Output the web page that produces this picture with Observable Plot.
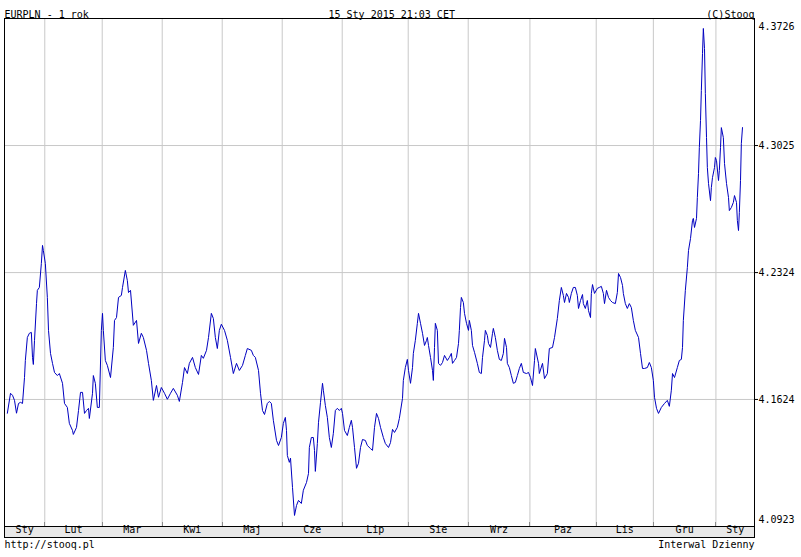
<!DOCTYPE html>
<html>
<head>
<meta charset="utf-8">
<script src="https://cdn.jsdelivr.net/npm/d3@7"></script>
<script src="https://cdn.jsdelivr.net/npm/@observablehq/plot@0.6"></script>
<style>
  html, body { margin: 0; padding: 0; background: #fff; }
</style>
</head>
<body>
<div id="chart"></div>
<script>
// Trading-session index (from mid-January 2014) and EUR/PLN close
const day = [
  0, 1.1, 1.8, 2.5, 3.2, 3.9, 4.6, 5.3, 6.0, 6.3, 7.0, 7.7, 8.4, 8.8, 9.1, 9.5,
  10.2, 10.5, 11.2, 11.9, 12.3, 12.6, 13.3, 14.0, 14.4, 15.1, 15.8, 16.5, 17.5, 18.2,
  19.3, 20.0, 21.0, 21.7, 22.8, 23.1, 24.2, 24.9, 25.6, 26.3, 27.0, 27.7, 28.4, 28.7,
  29.8, 30.1, 30.8, 31.5, 32.2, 32.9, 33.3, 33.6, 34.3, 35.0, 36.1, 37.1, 37.5, 38.2,
  38.9, 39.9, 40.3, 41.3, 42.0, 42.4, 43.1,
  44.1, 45.2, 45.9, 46.9, 47.6, 48.7, 49.4, 50.4, 51.1, 52.2, 52.9, 53.9, 55.0, 56.0,
  57.1, 58.1, 59.5, 60.2, 61.3, 62.0, 63.0, 63.7, 64.8, 65.8, 66.9, 67.9, 68.6, 69.7,
  70.4, 71.4, 72.1, 72.8, 73.5, 74.2, 74.9, 76.0, 77.0, 78.1, 79.1, 80.2, 81.2, 82.3,
  83.3, 84.0, 85.4, 86.1,
  86.8, 87.9, 88.6, 89.3, 90.0, 91.0, 91.7, 92.4, 93.1, 94.2, 94.9, 95.9, 96.6, 97.3,
  97.7, 98.0, 98.7, 99.1, 99.8, 100.5, 101.2, 101.9, 102.9, 103.6, 104.7, 105.4, 105.7,
  106.4, 107.1, 107.5, 107.8, 108.5, 108.9, 109.6, 110.3, 110.6, 111.3, 112.0, 112.7,
  113.4, 114.1, 114.8, 115.5, 116.2, 116.9, 117.3, 118.0, 119.0, 119.7, 120.4, 120.8,
  121.5, 122.2, 122.9, 123.6, 124.3, 125.3, 126.0, 127.1, 127.8, 128.5, 129.2, 129.9,
  130.6, 131.6, 132.3, 133.4, 134.1, 134.8, 135.5, 136.5, 137.2,
  138.3, 138.6, 139.3, 140.0, 140.4, 141.1, 141.8, 142.1, 142.8, 143.5, 143.9, 144.6,
  145.3, 146.0, 146.7, 147.0, 147.4, 148.1, 148.8, 149.1, 149.5, 149.8, 150.5, 150.9,
  151.6, 152.3, 153.0, 154.0, 154.7, 155.4, 155.8, 156.5, 157.2, 157.9, 158.2, 158.6,
  158.9, 159.6, 160.0, 160.7, 161.4, 161.7, 162.4, 162.8, 163.5, 164.5, 165.2, 165.9,
  166.3, 167.0, 167.3, 168.0, 168.4, 169.1, 169.8, 170.1, 170.8, 171.5, 172.2, 172.9,
  173.6, 174.0, 174.7, 175.0, 175.7, 176.4, 177.1, 177.8, 178.5, 179.2, 179.9, 180.6,
  181.7, 182.4, 183.1, 183.8, 184.5, 184.8,
  185.9, 186.2, 187.3, 188.0, 189.0, 189.7, 190.8, 191.5, 192.5, 193.2, 193.9, 194.6,
  195.0, 195.7, 196.4, 196.7, 197.4, 198.1, 198.8, 199.5, 199.9, 200.6, 201.3, 201.6,
  202.3, 203.0, 203.4, 204.1, 204.4, 204.8, 205.5, 206.5, 207.2, 207.9, 208.6, 209.0,
  209.7, 210.4, 211.1, 211.8, 212.8, 213.5, 213.9, 214.6, 215.3, 215.6, 216.3, 217.0,
  217.7, 218.4, 219.1, 219.8, 220.9, 221.6, 222.3, 223.0, 224.0, 224.7, 225.4, 226.1,
  226.5, 227.2, 227.9, 228.9, 230.0, 231.0, 231.7,
  232.4, 232.8, 233.5, 234.5, 235.2, 235.9, 236.3, 236.6, 237.3, 238.0, 238.4, 239.1,
  239.8, 240.1, 240.5, 241.2, 241.5, 241.9, 242.2, 242.6, 242.9, 243.3, 243.6, 244.0,
  244.3, 244.7, 245.0, 245.4, 246.1, 246.4, 246.8, 247.5, 247.8, 248.2, 248.9, 249.2,
  249.6, 249.9, 250.6, 251.0, 251.7, 252.4, 252.7, 253.4, 254.1, 254.5, 255.2, 255.5,
  255.9, 256.2, 256.6, 256.9, 257.3
];
const rate = [
  4.1548, 4.1658, 4.1647, 4.1619, 4.1548, 4.1602, 4.1608, 4.1602, 4.1745, 4.1839, 4.1966, 4.1989, 4.1994, 4.1856, 4.1817, 4.1950,
  4.2153, 4.2226, 4.2242, 4.2374, 4.2474, 4.2446, 4.2374, 4.2187, 4.2005, 4.1878, 4.1823, 4.1773, 4.1756, 4.1767,
  4.1713, 4.1602, 4.1580, 4.1492, 4.1453, 4.1431, 4.1470, 4.1563, 4.1663, 4.1663, 4.1547, 4.1563, 4.1575, 4.1519,
  4.1658, 4.1756, 4.1713, 4.1580, 4.1580, 4.2005, 4.2099, 4.2005, 4.1839, 4.1812, 4.1745, 4.1911, 4.2060, 4.2076,
  4.2187, 4.2198, 4.2242, 4.2336, 4.2280, 4.2214, 4.2226,
  4.2033, 4.2060, 4.1933, 4.1989, 4.1966, 4.1895, 4.1823, 4.1729, 4.1619, 4.1701, 4.1636, 4.1690, 4.1658, 4.1625,
  4.1658, 4.1685, 4.1647, 4.1613, 4.1718, 4.1800, 4.1767, 4.1823, 4.1856, 4.1800, 4.1762, 4.1867, 4.1851, 4.1895,
  4.1966, 4.2099, 4.2071, 4.1966, 4.1905, 4.2005, 4.2039, 4.2005, 4.1950, 4.1856, 4.1767, 4.1823, 4.1784, 4.1812,
  4.1867, 4.1905, 4.1895, 4.1867,
  4.1856, 4.1784, 4.1658, 4.1563, 4.1541, 4.1602, 4.1613, 4.1602, 4.1509, 4.1398, 4.1370, 4.1414, 4.1492, 4.1525,
  4.1453, 4.1315, 4.1277, 4.1300, 4.1138, 4.0984, 4.1039, 4.1067, 4.1050, 4.1123, 4.1166, 4.1216, 4.1359,
  4.1414, 4.1414, 4.1343, 4.1227, 4.1381, 4.1498, 4.1608, 4.1713, 4.1675, 4.1591, 4.1525, 4.1414,
  4.1359, 4.1437, 4.1563, 4.1575, 4.1563, 4.1575, 4.1547, 4.1453, 4.1425, 4.1470, 4.1509, 4.1470,
  4.1359, 4.1244, 4.1272, 4.1359, 4.1403, 4.1398, 4.1370, 4.1353, 4.1343, 4.1470, 4.1547, 4.1519,
  4.1470, 4.1414, 4.1381, 4.1359, 4.1386, 4.1459, 4.1442, 4.1470, 4.1519,
  4.1630, 4.1729, 4.1800, 4.1845, 4.1784, 4.1713, 4.1800, 4.1878, 4.1950, 4.2044, 4.2099, 4.2044,
  4.1989, 4.1922, 4.1950, 4.1966, 4.1922, 4.1856, 4.1784, 4.1729, 4.1911, 4.2044, 4.2005, 4.1823,
  4.1812, 4.1828, 4.1867, 4.1839, 4.1856, 4.1878, 4.1823, 4.1839, 4.1856, 4.1933, 4.2005, 4.2131,
  4.2187, 4.2159, 4.2099, 4.2044, 4.2005, 4.2060, 4.2005, 4.1922, 4.1884, 4.1823, 4.1773, 4.1767,
  4.1856, 4.1950, 4.2005, 4.1977, 4.1933, 4.1911, 4.1989, 4.2016, 4.1966, 4.1895, 4.1845, 4.1839,
  4.1878, 4.1961, 4.1911, 4.1823, 4.1800, 4.1756, 4.1713, 4.1718, 4.1756, 4.1795, 4.1823, 4.1773,
  4.1767, 4.1773, 4.1745, 4.1701, 4.1839, 4.1905,
  4.1823, 4.1767, 4.1823, 4.1739, 4.1767, 4.1905, 4.1911, 4.1966, 4.2071, 4.2170, 4.2242, 4.2198,
  4.2159, 4.2209, 4.2187, 4.2159, 4.2209, 4.2242, 4.2242, 4.2198, 4.2126, 4.2170, 4.2203, 4.2153,
  4.2126, 4.2170, 4.2114, 4.2076, 4.2209, 4.2258, 4.2209, 4.2237, 4.2242, 4.2248, 4.2209, 4.2153,
  4.2226, 4.2187, 4.2170, 4.2159, 4.2153, 4.2214, 4.2319, 4.2297, 4.2253, 4.2209, 4.2153, 4.2126,
  4.2153, 4.2131, 4.2060, 4.2005, 4.1966, 4.1878, 4.1795, 4.1795, 4.1800, 4.1828, 4.1800, 4.1729,
  4.1636, 4.1575, 4.1547, 4.1580, 4.1602, 4.1619, 4.1586,
  4.1675, 4.1767, 4.1745, 4.1800, 4.1839, 4.1845, 4.1911, 4.2060, 4.2226, 4.2351, 4.2446, 4.2512,
  4.2612, 4.2623, 4.2573, 4.2623, 4.2738, 4.2871, 4.3015, 4.3163, 4.3329, 4.3533, 4.3671, 4.3560,
  4.3313, 4.3069, 4.2904, 4.2816, 4.2721, 4.2793, 4.2849, 4.2904, 4.2959, 4.2942, 4.2832, 4.2888,
  4.3015, 4.3124, 4.3069, 4.2926, 4.2816, 4.2738, 4.2666, 4.2683, 4.2711, 4.2749, 4.2711, 4.2612,
  4.2556, 4.2656, 4.2832, 4.3037, 4.3124
];
// Month boundaries (session index) and month labels
const monthBounds = [13.1, 33.2, 54.2, 75.2, 96.2, 117.2, 140.3, 161.3, 182.9, 206.1, 226.1, 248.0];
const monthLabels = ["Sty", "Lut", "Mar", "Kwi", "Maj", "Cze", "Lip", "Sie", "Wrz", "Paz", "Lis", "Gru", "Sty"];
const dayRange = [-1, 261.5];
const yTicks = [4.0923, 4.1624, 4.2324, 4.3025, 4.3726];
const yInner = [4.1624, 4.2324, 4.3025];

const title = "EURPLN - 1 rok";
const stamp = "15 Sty 2015 21:03 CET";
const copyright = "(C)Stooq";
const source = "http://stooq.pl";
const interval = "Interwal Dzienny";

const series = day.map((d, i) => ({day: d, rate: rate[i]}));
const edges = [dayRange[0], ...monthBounds, dayRange[1]];
const mids = monthLabels.map((_, i) => (edges[i] + edges[i + 1]) / 2);
const yMin = yTicks[0], yMax = yTicks[yTicks.length - 1];

const W = 801, H = 557;
const mL = 4, mR = 47, mT = 18, mB = 20;
const bandH = 11;

const plot = Plot.plot({
  width: W,
  height: H,
  marginLeft: mL,
  marginRight: mR,
  marginTop: mT,
  marginBottom: mB,
  style: {fontFamily: "'DejaVu Sans Mono', monospace", fontSize: "10px", background: "white", color: "black"},
  x: {domain: dayRange, axis: null},
  y: {domain: [yMin, yMax], range: [H - mB - bandH, mT], axis: null},
  marks: [
    Plot.ruleY(yInner, {stroke: "#c8c8c8", strokeWidth: 1}),
    Plot.ruleX(monthBounds, {y1: yMin, y2: yMax, stroke: "#c8c8c8", strokeWidth: 1}),
    Plot.line(series, {x: "day", y: "rate", stroke: "#0000c0", strokeWidth: 1}),
    Plot.ruleY([yMin], {stroke: "black", strokeWidth: 1}),
    Plot.frame({stroke: "black", strokeWidth: 1}),
    Plot.axisY({anchor: "right", ticks: yInner, tickFormat: d => d.toFixed(4), tickSize: 3, tickPadding: 1, label: null, fontSize: 10}),
    Plot.text([yMax], {y: d => d, text: d => d.toFixed(4), frameAnchor: "right", textAnchor: "start", dx: 4, dy: 8, fill: "black"}),
    Plot.text([yMin], {y: d => d, text: d => d.toFixed(4), frameAnchor: "right", textAnchor: "start", dx: 4, dy: -7, fill: "black"}),
    Plot.text(monthLabels, {x: (d, i) => mids[i], text: d => d, frameAnchor: "bottom", dy: -5, fill: "black"}),
    Plot.text([title], {text: d => d, frameAnchor: "top-left", textAnchor: "start", dy: -8, fill: "black"}),
    Plot.text([stamp], {text: d => d, frameAnchor: "top", textAnchor: "start", dx: -51, dy: -8, fill: "black"}),
    Plot.text([copyright], {text: d => d, frameAnchor: "top-right", textAnchor: "end", dy: -8, fill: "black"}),
    Plot.text([source], {text: d => d, frameAnchor: "bottom-left", textAnchor: "start", dy: 10, fill: "black"}),
    Plot.text([interval], {text: d => d, frameAnchor: "bottom-right", textAnchor: "end", dy: 10, fill: "black"})
  ]
});

// light grey band holding the month labels, under the frame, plus short month ticks above it
const ys = plot.scale("y"), xs = plot.scale("x");
const bandTop = ys.apply(yMin);
const svg = d3.select(plot);
svg.insert("rect", "g")
  .attr("x", mL).attr("y", bandTop)
  .attr("width", W - mL - mR).attr("height", (H - mB) - bandTop)
  .attr("fill", "#e8e8e8");
svg.append("g").attr("stroke", "#8c8c8c").attr("transform", "translate(0.5,0)")
  .selectAll("line").data(monthBounds).join("line")
  .attr("x1", d => Math.round(xs.apply(d))).attr("x2", d => Math.round(xs.apply(d)))
  .attr("y1", bandTop - 4).attr("y2", bandTop);

document.getElementById("chart").appendChild(plot);
</script>
</body>
</html>
